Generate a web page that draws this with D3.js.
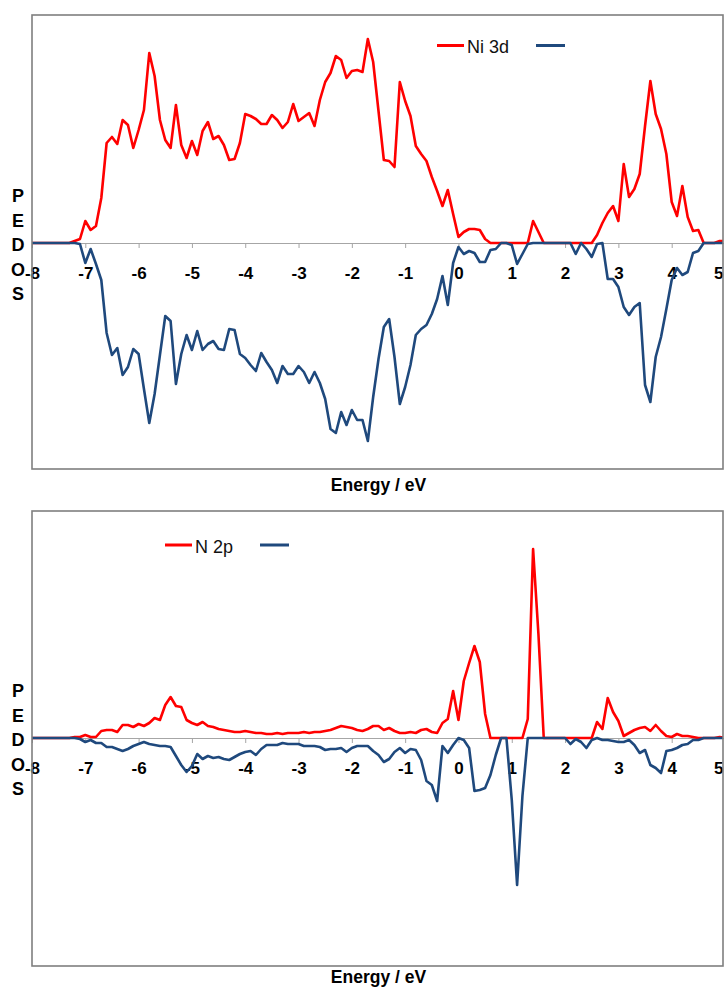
<!DOCTYPE html>
<html>
<head>
<meta charset="utf-8">
<script src="https://cdn.jsdelivr.net/npm/d3@7"></script>
<style>
  body { margin: 0; background: #fff; }
  svg { display: block; font-family: "Liberation Sans", Arial, sans-serif; }
</style>
</head>
<body>
<svg id="chart" width="724" height="990"></svg>
<script>
// energy grid (eV)
var energies = [
  -8.0,-7.9,-7.8,-7.7,-7.6,-7.5,-7.4,-7.3,-7.2,-7.1,
  -7.0,-6.9,-6.8,-6.7,-6.6,-6.5,-6.4,-6.3,-6.2,-6.1,
  -6.0,-5.9,-5.8,-5.7,-5.6,-5.5,-5.4,-5.3,-5.2,-5.1,
  -5.0,-4.9,-4.8,-4.7,-4.6,-4.5,-4.4,-4.3,-4.2,-4.1,
  -4.0,-3.9,-3.8,-3.7,-3.6,-3.5,-3.4,-3.3,-3.2,-3.1,
  -3.0,-2.9,-2.8,-2.7,-2.6,-2.5,-2.4,-2.3,-2.2,-2.1,
  -2.0,-1.9,-1.8,-1.7,-1.6,-1.5,-1.4,-1.3,-1.2,-1.1,
  -1.0,-0.9,-0.8,-0.7,-0.6,-0.5,-0.4,-0.3,-0.2,-0.1,
  0.0,0.1,0.2,0.3,0.4,0.5,0.6,0.7,0.8,0.9,
  1.0,1.1,1.2,1.3,1.4,1.5,1.6,1.7,1.8,1.9,
  2.0,2.1,2.2,2.3,2.4,2.5,2.6,2.7,2.8,2.9,
  3.0,3.1,3.2,3.3,3.4,3.5,3.6,3.7,3.8,3.9,
  4.0,4.1,4.2,4.3,4.4,4.5,4.6,4.7,4.8,4.9,
  5.0
];

var xTicks = [-8, -7, -6, -5, -4, -3, -2, -1, 0, 1, 2, 3, 4, 5];

// Ni 3d, spin up (arb. units)
var ni3dUp = [
  0,0,0,0,0,0,0,0,2,4,
  22,13,17,45,100,106,99,123,118,95,
  113,133,190,167,123,103,95,138,98,85,
  102,88,112,121,104,107,98,83,84,100,
  129,127,124,119,119,128,123,115,121,139,
  122,126,130,117,143,161,170,187,183,165,
  172,173,171,204,181,132,83,82,76,161,
  142,127,97,89,82,66,52,37,53,29,
  6,11,14,14,13,4,0,0,0,0,
  0,0,0,0,22,11,0,0,0,0,
  0,0,0,0,0,0,8,20,30,37,
  22,79,46,54,69,117,162,129,114,89,
  41,27,57,26,12,13,0,0,0,2,
  2
];

// Ni 3d, spin down
var ni3dDown = [
  0,0,0,0,0,0,0,0,0,-1,
  -20,-6,-21,-37,-90,-112,-105,-132,-124,-106,
  -111,-146,-180,-151,-112,-73,-78,-141,-111,-92,
  -107,-88,-107,-101,-98,-106,-107,-86,-87,-111,
  -115,-122,-128,-110,-119,-127,-140,-123,-131,-131,
  -123,-129,-140,-129,-140,-156,-186,-190,-169,-182,
  -167,-177,-177,-198,-154,-116,-84,-76,-114,-161,
  -144,-122,-92,-86,-82,-71,-56,-33,-62,-20,
  -4,-11,-8,-10,-19,-19,-7,-6,0,0,
  -2,-21,-11,-1,0,0,0,0,0,0,
  0,0,-11,0,-6,-14,-1,0,-36,-36,
  -44,-64,-72,-64,-60,-142,-159,-114,-94,-66,
  -37,-25,-32,-29,-10,-8,0,0,0,0,
  0
];

// N 2p, spin up
var n2pUp = [
  0,0,0,0,0,0,0,0,1,1,
  3,1,1,7,8,8,6,13,13,11,
  14,12,15,20,18,33,41,32,31,18,
  15,13,16,12,11,9,8,7,6,6,
  7,6,5,5,4,4,5,4,5,5,
  5,6,5,6,6,7,8,10,12,11,
  10,8,7,9,12,12,8,10,7,5,
  5,6,5,8,9,6,5,15,19,47,
  18,57,75,92,76,24,0,0,0,0,
  0,0,0,19,189,104,0,0,0,0,
  0,0,0,0,0,0,16,9,40,26,
  17,2,5,8,10,11,7,13,7,2,
  1,4,2,2,1,0,0,0,0,1,
  0
];

// N 2p, spin down
var n2pDown = [
  0,0,0,0,0,0,0,0,0,-1,
  -4,-2,-5,-5,-9,-9,-11,-13,-11,-8,
  -6,-4,-6,-7,-8,-8,-9,-18,-27,-34,
  -28,-16,-21,-18,-20,-19,-21,-22,-19,-16,
  -14,-13,-17,-11,-7,-7,-7,-5,-6,-6,
  -6,-8,-8,-8,-9,-12,-11,-11,-10,-14,
  -10,-8,-8,-8,-13,-17,-24,-21,-14,-10,
  -15,-11,-12,-22,-43,-47,-63,-8,-15,-7,
  0,-2,-10,-53,-52,-50,-37,-17,0,0,
  -62,-147,-58,0,0,0,0,0,0,0,
  0,-6,-1,-4,-10,-2,0,-2,-2,-3,
  -4,-4,-2,-7,-15,-12,-27,-30,-35,-13,
  -12,-10,-7,-6,-2,-2,0,0,0,0,
  0
];

var upColor = "#ff0000",
    downColor = "#1f497d";

var svg = d3.select("#chart");

var left = 32, right = 723;
var x = d3.scaleLinear().domain([-8, 5]).range([left, 725]);

function drawPanel(p) {
  var y = d3.scaleLinear().domain(p.yDomain).range([p.bottom, p.top]);
  var g = svg.append("g");

  g.append("clipPath").attr("id", p.id + "-clip")
    .append("rect")
      .attr("x", left).attr("y", p.top)
      .attr("width", right - left).attr("height", p.bottom - p.top);

  // zero axis with ticks
  var axis = d3.axisBottom(x).tickValues(xTicks).tickSize(5).tickSizeOuter(0)
      .tickFormat(d3.format("d"));
  var ax = g.append("g")
      .attr("transform", "translate(0," + y(0) + ")")
      .call(axis);
  ax.select(".domain").attr("stroke", "#a6a6a6").attr("stroke-width", 1);
  ax.selectAll(".tick line").attr("stroke", "#a6a6a6");
  ax.selectAll(".tick text")
      .attr("y", 35.5).attr("dy", null)
      .attr("fill", "#000")
      .style("font-size", "17px")
      .style("font-weight", "bold")
      .text(function(d) { return d < 0 ? "-" + Math.abs(d) : d; });
  // keep the last label inside the page
  ax.selectAll(".tick text").filter(function(d) { return d === 5; })
      .attr("text-anchor", "end").attr("dx", -2);

  var line = d3.line()
      .x(function(d, i) { return x(energies[i]); })
      .y(function(d) { return y(d); });

  var lines = g.append("g").attr("clip-path", "url(#" + p.id + "-clip)");
  lines.append("path").datum(p.up)
      .attr("d", line).attr("fill", "none")
      .attr("stroke", upColor).attr("stroke-width", 2.6)
      .attr("stroke-linejoin", "round");
  lines.append("path").datum(p.down)
      .attr("d", line).attr("fill", "none")
      .attr("stroke", downColor).attr("stroke-width", 2.6)
      .attr("stroke-linejoin", "round");

  // plot frame
  g.append("rect")
      .attr("x", left).attr("y", p.top)
      .attr("width", right - left).attr("height", p.bottom - p.top)
      .attr("fill", "none").attr("stroke", "#7f7f7f").attr("stroke-width", 1.6);

  // vertical y label, one letter per line
  var letters = ["P", "E", "D", "O", "S"];
  g.append("g").selectAll("text")
      .data(letters)
    .enter().append("text")
      .attr("x", 18)
      .attr("y", function(d, i) { return y(0) - 41 + i * 24.5; })
      .attr("text-anchor", "middle")
      .style("font-size", "18px")
      .style("font-weight", "bold")
      .text(String);

  g.append("text")
      .attr("x", (left + right) / 2 + 1)
      .attr("y", p.titleY)
      .attr("text-anchor", "middle")
      .style("font-size", "17.5px")
      .style("font-weight", "bold")
      .text("Energy / eV");

  // legend
  var lg = g.append("g").attr("transform", "translate(" + p.legendX + "," + p.legendY + ")");
  lg.append("line").attr("x1", 0).attr("x2", 27).attr("y1", 0).attr("y2", 0)
      .attr("stroke", upColor).attr("stroke-width", 3);
  lg.append("text").attr("x", 30).attr("y", 7.5)
      .style("font-size", "18px")
      .attr("fill", "#111")
      .text(p.label);
  lg.append("line").attr("x1", p.gap).attr("x2", p.gap + 29).attr("y1", 0).attr("y2", 0)
      .attr("stroke", downColor).attr("stroke-width", 3);
}

drawPanel({
  id: "ni", top: 15, bottom: 469, yDomain: [-226, 228],
  up: ni3dUp, down: ni3dDown, label: "Ni 3d",
  legendX: 437, legendY: 45.5, gap: 99, titleY: 491
});

drawPanel({
  id: "n", top: 511, bottom: 966, yDomain: [-228, 227],
  up: n2pUp, down: n2pDown, label: "N 2p",
  legendX: 165, legendY: 545, gap: 95, titleY: 983
});
</script>
</body>
</html>
